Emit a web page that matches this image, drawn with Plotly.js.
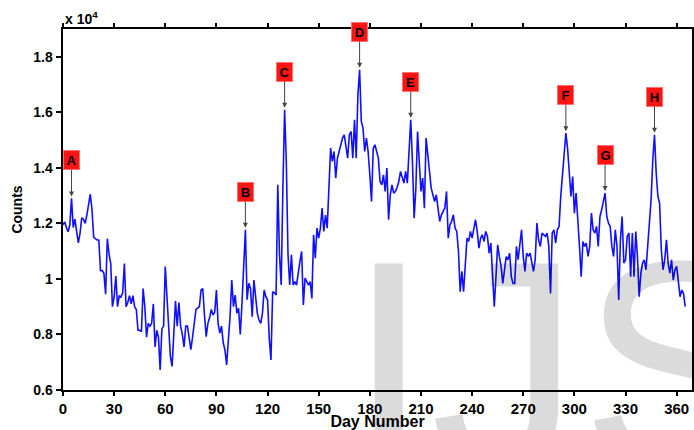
<!DOCTYPE html>
<html>
<head>
<meta charset="utf-8">
<script src="https://cdn.plot.ly/plotly-3.0.1.min.js"></script>
<style>html,body{margin:0;padding:0;background:#fff;}#chart{width:694px;height:430px;}</style>
</head>
<body>
<div id="chart"></div>
<script>
// Daily counts, day 0 .. 365
const startDay = 0;
const counts = [
  11950, 12050, 11850, 11700, 11950, 12900, 11850, 12150, 11700, 11300,
  11650, 12200, 12150, 12000, 12300, 12750, 13050, 12500, 11500, 11450,
  11400, 11400, 10300, 10300, 10200, 9450, 11450, 10900, 10550, 9000,
  9350, 10100, 9000, 9400, 9350, 9500, 10550, 9000, 9150, 9400,
  9100, 9400, 9000, 8900, 8150, 8150, 8100, 9650, 9000, 7900,
  8400, 8300, 8400, 9100, 7550, 8150, 7900, 6720, 8200, 8300,
  10450, 9350, 8200, 7200, 6850, 8200, 9200, 8300, 9150, 8300,
  8000, 7550, 8300, 8300, 7850, 7450, 7900, 8450, 8900, 8950,
  9000, 9600, 9650, 8700, 7920, 8400, 8600, 8900, 8700, 8800,
  9600, 8400, 8050, 8300, 7700, 7440, 6900, 7800, 8640, 9960,
  9000, 9420, 8760, 8940, 8000, 9120, 10450, 11770, 9250, 9840,
  9660, 8640, 9960, 9360, 8760, 8520, 8400, 8760, 9600, 9360,
  9240, 7860, 7080, 9540, 9500, 9420, 13390, 10870, 9780, 13270,
  16090, 14230, 10870, 9780, 10870, 9780, 9900, 9780, 10270, 10630,
  10990, 9060, 10030, 9900, 9780, 9900, 9300, 11590, 10750, 11830,
  11470, 11830, 12550, 11710, 12300, 11830, 13030, 14710, 14230, 14590,
  13630, 14350, 14590, 14830, 15070, 15190, 14710, 14350, 15190, 15310,
  14350, 15730, 14350, 16630, 17530, 15670, 15430, 14590, 15070, 14590,
  13750, 12790, 14710, 14830, 14590, 14350, 13510, 13390, 13750, 13150,
  13990, 12130, 13030, 13390, 13090, 13150, 13300, 13510, 13870, 13630,
  13450, 13870, 13450, 14590, 15730, 14230, 12190, 13270, 15310, 14230,
  13150, 13630, 12550, 15070, 14350, 13870, 13270, 13030, 12790, 13030,
  12550, 12070, 12310, 12430, 12550, 13150, 11470, 11950, 12070, 12310,
  11830, 11710, 10990, 9540, 10270, 9540, 10390, 11470, 11350, 11710,
  11470, 11830, 12130, 11710, 11110, 11470, 11590, 11350, 11710, 11530,
  10930, 11290, 10080, 9000, 10080, 11230, 10800, 10450, 9840, 10330,
  10800, 10690, 10930, 10080, 9840, 9840, 11170, 10690, 11290, 11770,
  10800, 10270, 10930, 10810, 10930, 10570, 10270, 10690, 12010, 11410,
  11170, 11650, 11590, 11530, 11650, 11170, 9480, 11650, 11770, 11290,
  11770, 11890, 12970, 13810, 14530, 15250, 14710, 13810, 12970, 13690,
  12370, 13090, 12250, 11170, 10080, 11350, 11170, 11290, 10810, 11170,
  12370, 11770, 11650, 11890, 11170, 12250, 12490, 12850, 13090, 12250,
  12010, 11890, 11170, 10810, 11770, 11170, 9240, 11410, 12250, 10570,
  10690, 11530, 11650, 10080, 11650, 10080, 11710, 10810, 9360, 10200,
  10570, 10690, 10330, 11170, 12010, 12850, 14290, 15190, 13810, 12970,
  12730, 11050, 10330, 10690, 11410, 10570, 10210, 10690, 9960, 10330,
  10450, 9960, 9360, 9600, 9480, 9000
];

const peakLabels = ['A', 'B', 'C', 'D', 'E', 'F', 'G', 'H'];
const peakDays   = [5, 107, 130, 174, 204, 295, 318, 347];

const xTickVals = [0, 30, 60, 90, 120, 150, 180, 210, 240, 270, 300, 330, 360];
const yTickVals = [6000, 8000, 10000, 12000, 14000, 16000, 18000];
const yTickText = ['0.6', '0.8', '1', '1.2', '1.4', '1.6', '1.8'];

const FONT = 'Arial, "Liberation Sans", Helvetica, sans-serif';

const trace = {
  type: 'scatter',
  mode: 'lines',
  x0: startDay,
  dx: 1,
  y: counts,
  line: {color: '#1010ff', width: 1.6},
  hoverinfo: 'skip'
};

const peakAnnotations = peakLabels.map((lab, i) => ({
  x: peakDays[i],
  y: counts[peakDays[i] - startDay],
  xref: 'x', yref: 'y',
  text: lab,
  showarrow: true,
  arrowhead: 2,
  arrowsize: 1,
  arrowwidth: 1,
  arrowcolor: '#444',
  ax: 0,
  ay: -38,
  standoff: 2,
  bgcolor: '#ff1414',
  bordercolor: '#ff7070',
  borderwidth: 1,
  borderpad: 1,
  width: 13,
  height: 16,
  font: {family: FONT, size: 13, weight: 'bold', color: '#000'}
}));

const layout = {
  width: 694,
  height: 430,
  margin: {l: 63, r: 2, t: 29, b: 40},
  paper_bgcolor: '#fff',
  plot_bgcolor: '#fff',
  showlegend: false,
  font: {family: FONT, color: '#000'},
  xaxis: {
    range: [0, 369],
    tickvals: xTickVals,
    ticks: 'outside',
    ticklen: 4,
    tickwidth: 2,
    tickcolor: '#000',
    showline: true,
    linecolor: '#000',
    linewidth: 2,
    mirror: 'ticks',
    showgrid: false,
    zeroline: false,
    tickfont: {family: FONT, size: 15, weight: 'bold', color: '#000'},
    title: {text: 'Day Number', font: {family: FONT, size: 16, weight: 'bold', color: '#000'}, standoff: 2}
  },
  yaxis: {
    range: [6000, 19000],
    tickvals: yTickVals,
    ticktext: yTickText,
    ticks: 'outside',
    ticklen: 5,
    tickwidth: 2,
    tickcolor: '#000',
    showline: true,
    linecolor: '#000',
    linewidth: 2.5,
    mirror: true,
    showgrid: false,
    zeroline: false,
    tickfont: {family: FONT, size: 14, weight: 'bold', color: '#000'},
    title: {text: 'Counts', font: {family: FONT, size: 14, weight: 'bold', color: '#000'}, standoff: 8}
  },
  annotations: [
    {
      xref: 'paper', yref: 'paper', x: 0.448, y: 0.537,
      xanchor: 'left', yanchor: 'top',
      text: 'IJSER', showarrow: false,
      font: {family: FONT, size: 300, color: 'rgba(0,0,0,0.14)'}
    },
    {
      xref: 'paper', yref: 'paper', x: 0, y: 1,
      xanchor: 'left', yanchor: 'bottom', yshift: 0,
      text: 'x 10<sup>4</sup>', showarrow: false,
      font: {family: FONT, size: 14, weight: 'bold', color: '#000'}
    }
  ].concat(peakAnnotations)
};

Plotly.newPlot('chart', [trace], layout, {displayModeBar: false, staticPlot: true});
</script>
</body>
</html>
